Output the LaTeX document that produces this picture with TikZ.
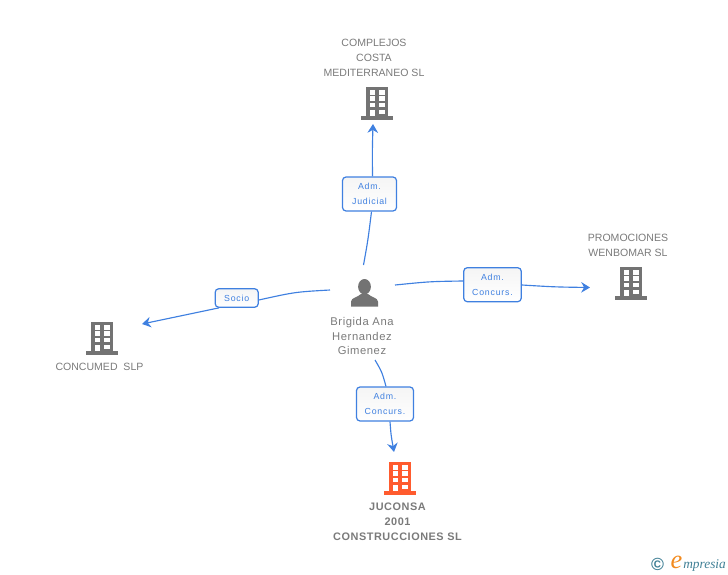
\documentclass[tikz,border=0pt]{standalone}
\usepackage{fontspec}
\setmainfont{Liberation Sans}
\newfontfamily\relfont[LetterSpace=9]{Liberation Sans}
\newfontfamily\namefont[LetterSpace=5]{Liberation Sans}
\newfontfamily\logofont{Liberation Serif}
\usetikzlibrary{arrows.meta}
\definecolor{linkblue}{HTML}{3F80E0}
\definecolor{icongray}{HTML}{737373}
\definecolor{textgray}{HTML}{7A7A7A}
\definecolor{mainorange}{HTML}{FF5B2E}
\definecolor{logoteal}{HTML}{3F7F95}
\definecolor{logoorange}{HTML}{F28A1E}
\tikzset{
    buildingicon/.style={minimum width=0.64cm, minimum height=0.66cm, inner sep=0pt,
        path picture={
            \begin{scope}[shift={(path picture bounding box.center)}]
                \fill[#1] (-11.2,-16.3) rectangle (11.2,13.2);
                \fill[#1] (-16,13.2) rectangle (16,16.5);
                \foreach \rowy in {-13,-7,-0.3} {
                    \fill[white] (-7.2,\rowy) rectangle (-2.2,\rowy+4.5);
                    \fill[white] (2.3,\rowy) rectangle (7.5,\rowy+4.5);
                }
                \fill[white] (-7.2,7) rectangle (-2.2,13.2);
                \fill[white] (2.3,7) rectangle (7.5,11);
            \end{scope}
        }},
    buildingicon/.default=icongray,
    personicon/.style={minimum width=0.56cm, minimum height=0.56cm, inner sep=0pt,
        path picture={
            \begin{scope}[shift={(path picture bounding box.center)}]
                \fill[icongray] (0,-6.3) ellipse (6.4 and 7.7);
                \fill[icongray] (-13.5,13.6) -- (-13.5,8.5) .. controls (-13,4.5) and (-7,4.5) .. (-3.5,1)
                    -- (3.5,1) .. controls (7,4.5) and (13,4.5) .. (13.5,8.5) -- (13.5,13.6) -- cycle;
            \end{scope}
        }},
    relbox/.style={draw=linkblue, line width=0.7pt, rounded corners=2pt, top color=black!4, bottom color=white,
        inner sep=0pt, align=center, text=linkblue, font=\relfont\fontsize{5}{8.5}\selectfont},
    nametext/.style={align=center, text=textgray, inner sep=0pt, font=\fontsize{6}{8.5}\selectfont},
    link/.style={draw=linkblue, line width=0.65pt},
    linkarrow/.style={link, -{Stealth[length=5pt, width=6pt]}},
}
\begin{document}
\begin{tikzpicture}[x=0.02cm, y=-0.02cm]
    \useasboundingbox (0,0) rectangle (728,575);

    % people and companies
    \node[personicon] (brigida) at (364.5,293) {};
    \node[nametext, font=\namefont\fontsize{6.4}{8.5}\selectfont] (brigidatext) at (362,336) {Brigida Ana\\Hernandez\\Gimenez};

    \node[buildingicon] (complejos) at (377,103) {};
    \node[nametext] (complejostext) at (374,57.5) {COMPLEJOS\\COSTA\\MEDITERRANEO SL};
    \node[buildingicon] (wenbomar) at (631,283) {};
    \node[nametext] (wenbomartext) at (628,245) {PROMOCIONES\\WENBOMAR SL};
    \node[buildingicon] (concumed) at (102,338) {};
    \node[nametext] (concumedtext) at (99.5,367) {CONCUMED\ \ SLP};
    \node[buildingicon=mainorange] (juconsa) at (400,478) {};
    \node[nametext, font=\namefont\bfseries\fontsize{6.2}{8.5}\selectfont] (juconsatext) at (397.5,522) {JUCONSA\\2001\\CONSTRUCCIONES SL};

    % relations
    \node[relbox, minimum width=1.08cm, minimum height=0.68cm] (judicial) at (369.5,194) {Adm.\\Judicial};
    \node[relbox, minimum width=1.15cm, minimum height=0.68cm] (concursr) at (492.5,284.7) {Adm.\\Concurs.};
    \node[relbox, minimum width=0.86cm, minimum height=0.37cm] (socio) at (236.7,298) {Socio};
    \node[relbox, minimum width=1.14cm, minimum height=0.68cm] (concursb) at (385,404) {Adm.\\Concurs.};

    % free ends of the connectors
    \coordinate (ptop) at (363.5,265);
    \coordinate (pright) at (395,285);
    \coordinate (pleft) at (330,290);
    \coordinate (pbottom) at (375,360);
    \coordinate (tiptop) at (373,124);
    \coordinate (tipright) at (590,287.5);
    \coordinate (tipleft) at (142,324);
    \coordinate (tipbottom) at (394,452);

    \draw[link] (ptop) .. controls (368,240) .. (judicial.south -| 371.5,0);
    \draw[linkarrow] (judicial.north -| 372.5,0) .. controls (372.3,150) .. (tiptop);
    \draw[link] (pright) .. controls (430,281.5) .. (concursr.west |- 0,281);
    \draw[linkarrow] (concursr.east |- 0,285) .. controls (555,287) .. (tipright);
    \draw[link] (pleft) .. controls (295,292) .. (socio.east |- 0,300);
    \draw[linkarrow] (socio.south west -| 219,0) -- (tipleft);
    \draw[link] (pbottom) .. controls (382,372) .. (concursb.north -| 386,0);
    \draw[linkarrow] (concursb.south -| 390,0) .. controls (391,435) .. (tipbottom);

    % logo
    \node[text=logoteal, inner sep=0pt, font=\bfseries\fontsize{10}{10}\selectfont] (copyr) at (657.5,564) {\char"00A9};
    \node[text=logoorange, inner sep=0pt, font=\logofont\itshape\fontsize{15}{15}\selectfont] (logoe) at (676.5,562) {e};
    \node[text=logoteal, inner sep=0pt, anchor=base west, font=\logofont\itshape\fontsize{7.6}{8}\selectfont] (logotext) at (683,568.5) {mpresia};
\end{tikzpicture}
\end{document}
